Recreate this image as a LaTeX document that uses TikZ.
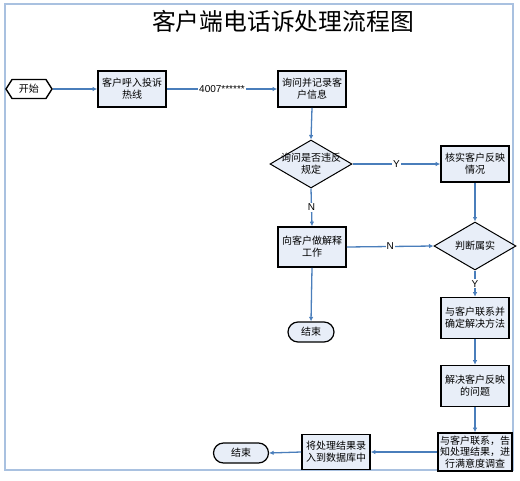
\documentclass[tikz,border=0pt]{standalone}
\usepackage{fontspec}
\setmainfont{Liberation Sans}
\newfontfamily\cjk{Noto Sans CJK SC}
\usetikzlibrary{shapes.geometric,shapes.misc,shapes.symbols,arrows.meta}
\definecolor{boxfill}{HTML}{E8EEF8}
\definecolor{arr}{HTML}{4A7EBB}
\definecolor{framec}{HTML}{A9C1E0}
\tikzset{
  procbox/.style={draw=black, line width=1.6pt, fill=boxfill, minimum width=68pt, minimum height=36pt, inner sep=1pt, align=center},
  decbox/.style={diamond, draw=black, line width=1pt, fill=boxfill, minimum width=82pt, minimum height=48pt, inner sep=0pt},
  endbox/.style={rounded rectangle, draw=black, line width=1.2pt, fill=boxfill, minimum width=48pt, minimum height=20pt, inner sep=1pt},
  startbox/.style={signal, signal to=west and east, signal pointer angle=115, draw=black, line width=1.4pt, fill=white, minimum width=46pt, minimum height=19pt, inner sep=1pt},
  txt/.style={align=center, inner sep=0pt},
  flow/.style={draw=arr, line width=1.3pt, -{Latex[length=4.5pt,width=4.5pt]}},
  lbl/.style={fill=white, inner sep=1pt, font=\fontsize{10}{11}\selectfont}
}
\begin{document}
\begin{tikzpicture}[x=1pt,y=-1pt, font=\cjk\fontsize{10}{12}\selectfont]
\useasboundingbox (0,0) rectangle (520,480);
\draw[framec, line width=2pt] (5,4) rectangle (513,470);
\node[font=\cjk\fontsize{23.8}{26}\selectfont] (title) at (283,21) {客户端电话诉处理流程图};

\node[startbox] (start) at (29,89) {开始};
\node[procbox] (b1) at (132,89) {客户呼入投诉\\热线};
\node[procbox] (b2) at (312,89) {询问并记录客\\户信息};
\node[decbox] (d1) at (311,164) {};
\node[txt] at (d1.center) {询问是否违反\\规定};
\node[procbox] (b3) at (475,164) {核实客户反映\\情况};
\node[procbox, minimum height=40pt] (b4) at (312,247) {向客户做解释\\工作};
\node[decbox] (d2) at (475,246) {};
\node[txt] at (d2.center) {判断属实};
\node[procbox, minimum height=41pt] (b5) at (475,318) {与客户联系并\\确定解决方法};
\node[endbox] (e1) at (311,332) {结束};
\node[procbox, minimum height=41pt] (b6) at (475,386) {解决客户反映\\的问题};
\node[procbox, minimum width=74pt, minimum height=38pt, inner sep=0pt, font=\cjk\fontsize{10}{11.5}\selectfont] (b7) at (475,452) {与客户联系，告\\知处理结果，进\\行满意度调查};
\node[procbox, minimum height=35pt] (b8) at (336,452) {将处理结果录\\入到数据库中};
\node[endbox, minimum width=57pt] (e2) at (241,453) {结束};

\draw[flow] (start.east) -- (b1.west);
\draw[flow] (b1.east) -- node[lbl] {4007******} (b2.west);
\draw[flow] (b2.south) -- (d1.north);
\draw[flow] (d1.east) -- node[lbl] {Y} (b3.west);
\draw[flow] (d1.south) -- node[lbl] {N} (b4.north);
\draw[flow] (b3.south) -- (d2.north);
\draw[flow] (b4.east) -- node[lbl] {N} (d2.west);
\draw[flow] (d2.south) -- node[lbl] {Y} (b5.north);
\draw[flow] (b4.south) -- (e1.north);
\draw[flow] (b5.south) -- (b6.north);
\draw[flow] (b6.south) -- (b7.north);
\draw[flow] (b7.west) -- (b8.east);
\draw[flow] (b8.west) -- (e2.east);
\end{tikzpicture}
\end{document}
